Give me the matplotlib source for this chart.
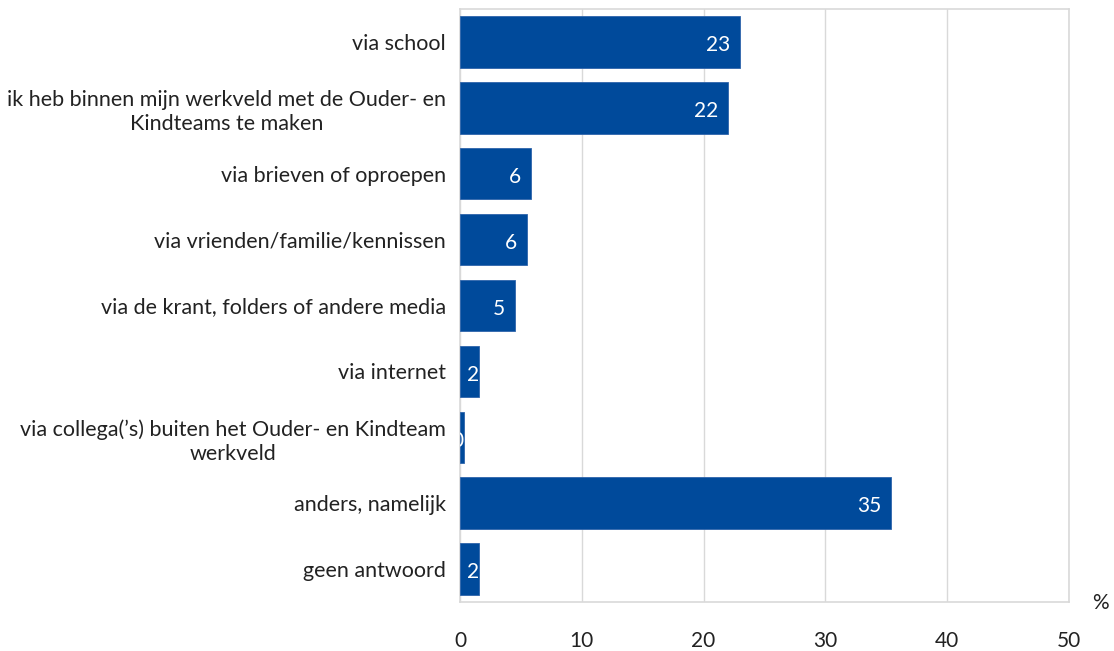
import matplotlib
matplotlib.use("Agg")
import matplotlib.pyplot as plt

categories = [
    "via school",
    "ik heb binnen mijn werkveld met de Ouder- en\nKindteams te maken",
    "via brieven of oproepen",
    "via vrienden/familie/kennissen",
    "via de krant, folders of andere media",
    "via internet",
    "via collega(\u2019s) buiten het Ouder- en Kindteam\nwerkveld",
    "anders, namelijk",
    "geen antwoord",
]
values = [23.0, 22.0, 5.8, 5.5, 4.5, 1.6, 0.3, 35.4, 1.6]
value_labels = ["23", "22", "6", "6", "5", "2", "0", "35", "2"]
xticks = [0, 10, 20, 30, 40, 50]

plt.rcParams['font.family'] = ['Lato', 'DejaVu Sans']

fig = plt.figure(figsize=(11.14, 6.51), dpi=100)
ax = fig.add_axes([460/1114, 1 - 602/651, (1069-460)/1114, (602-9)/651])

bar_color = "#004A9B"
y = list(range(len(categories)))
ax.barh(y, values, height=0.78, color=bar_color, edgecolor="#2E64AB", linewidth=0.6, zorder=3)
ax.set_ylim(len(categories) - 0.5, -0.5)
ax.set_xlim(0, 50)
ax.set_yticks(y)
ax.set_yticklabels(categories, fontsize=15.5, color="#222222", linespacing=1.25)
ax.set_xticks(xticks)
ax.set_xticklabels([str(t) for t in xticks], fontsize=15, color="#222222")
ax.tick_params(axis='both', length=0)
ax.tick_params(axis='x', pad=21)
ax.tick_params(axis='y', pad=10)
for lbl in ax.get_yticklabels():
    lbl.set_multialignment('center')

ax.grid(axis='x', color="#D9D9D9", linewidth=1.0, zorder=0)
for s in ax.spines.values():
    s.set_color("#D9D9D9")
    s.set_linewidth(1.2)

for yi, v, lab in zip(y, values, value_labels):
    off = 0.8 if v > 3 else 0.05
    ax.text(v - off, yi + 0.05, lab, ha='right', va='center', color='white',
            fontsize=15, zorder=4, clip_on=True)

fig.text(1100/1114, 1 - 603/651, "%", ha='center', va='center', fontsize=15, color="#222222")

fig.savefig("out.png", dpi=100)
